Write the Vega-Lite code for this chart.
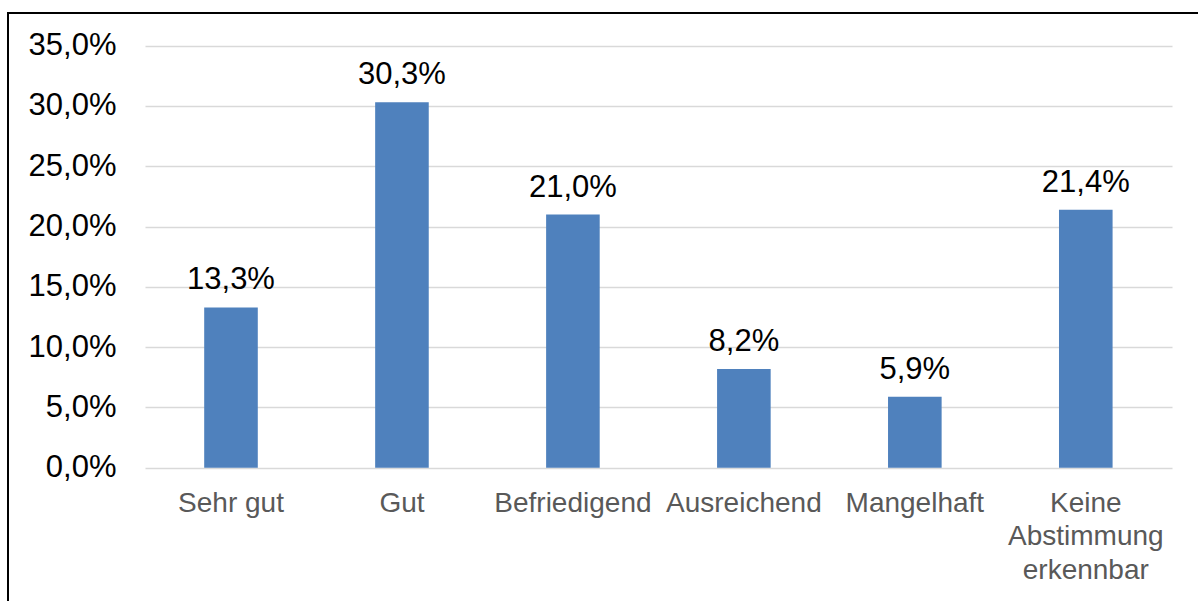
{
  "$schema": "https://vega.github.io/schema/vega-lite/v6.json",
  "autosize": "none",
  "width": 1190,
  "height": 588,
  "padding": {"left": 8, "top": 13, "right": 0, "bottom": 0},
  "background": "white",
  "config": {
    "locale": {"number": {"decimal": ",", "thousands": ".", "grouping": [3], "currency": ["", " €"]}},
    "view": {"stroke": "#000000", "strokeWidth": 2, "strokeDash": [1190, 1778, 588, 4000]},
    "font": "Liberation Sans"
  },
  "data": {
    "values": [
      {"category": "Sehr gut", "share": 0.133},
      {"category": "Gut", "share": 0.303},
      {"category": "Befriedigend", "share": 0.210},
      {"category": "Ausreichend", "share": 0.082},
      {"category": "Mangelhaft", "share": 0.059},
      {"category": "Keine Abstimmung erkennbar", "share": 0.214}
    ]
  },
  "encoding": {
    "x": {
      "field": "category",
      "type": "nominal",
      "sort": null,
      "scale": {"paddingInner": 0.6865, "paddingOuter": 0.8236, "align": 0.6967},
      "axis": {
        "title": null,
        "domain": false,
        "ticks": false,
        "tickSize": 0,
        "grid": false,
        "labelAngle": 0,
        "labelOverlap": false,
        "labelFont": "Liberation Sans",
        "labelFontSize": 28,
        "labelColor": "#595959",
        "labelBaseline": "alphabetic",
        "labelPadding": -90,
        "labelLineHeight": 33.5,
        "labelExpr": "datum.value == 'Keine Abstimmung erkennbar' ? ['Keine', 'Abstimmung', 'erkennbar'] : datum.label"
      }
    }
  },
  "layer": [
    {
      "mark": {"type": "bar", "color": "#4f81bd"},
      "encoding": {
        "y": {
          "field": "share",
          "type": "quantitative",
          "scale": {"domain": [-0.11045, 0.3771], "nice": false, "zero": false},
          "axis": {
            "values": [0, 0.05, 0.1, 0.15, 0.2, 0.25, 0.3, 0.35],
            "format": ".1%",
            "title": null,
            "domain": false,
            "ticks": false,
            "tickSize": 0,
            "labelPadding": -108,
            "labelFont": "Liberation Sans",
            "labelFontSize": 31,
            "labelColor": "#000000",
            "labelBaseline": "middle",
            "grid": true,
            "gridColor": "#d9d9d9",
            "gridWidth": 1.5,
            "gridDash": [0, 137, 1027, 2000]
          }
        },
        "y2": {"datum": 0}
      }
    },
    {
      "mark": {"type": "text", "fontSize": 31, "font": "Liberation Sans", "color": "#000000", "baseline": "alphabetic", "align": "center", "dy": -18},
      "encoding": {
        "y": {"field": "share", "type": "quantitative"},
        "text": {"field": "share", "type": "quantitative", "format": ".1%"}
      }
    }
  ]
}
